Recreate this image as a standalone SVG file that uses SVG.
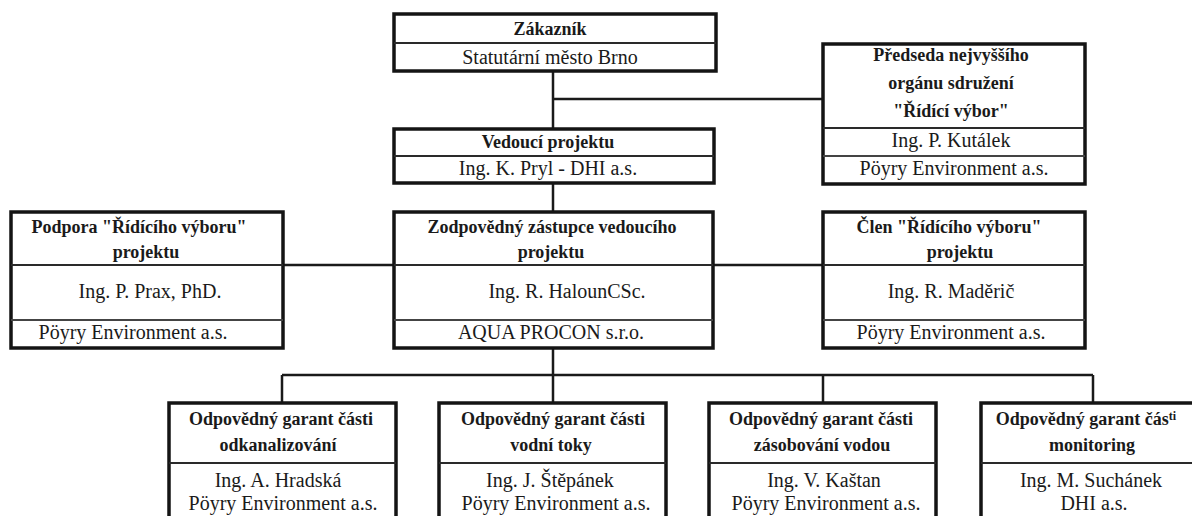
<svg xmlns="http://www.w3.org/2000/svg" width="1192" height="516" viewBox="0 0 1192 516">
<style>
.box{fill:#fff;stroke:#141414;stroke-width:3.5}
.div{stroke:#2a2a2a;stroke-width:2;fill:none}
.div2{stroke:#444;stroke-width:2;fill:none}
.con{stroke:#1a1a1a;stroke-width:2.5;fill:none}
text{font-family:"Liberation Serif","Times New Roman",serif;fill:#1a1a1a;text-anchor:middle}
.b{font-weight:bold;font-size:18px}
.r{font-size:20px}
</style>
<rect width="1192" height="516" fill="#fff"/>
<g id="connectors">
<path class="con" d="M553 71V129M553 99H823M553 183V212M283 265H823M553 348V375M282 375H1093M282 375V403M553 375V403M823 375V403M1093 375V403"/>
</g>
<g id="zakaznik">
<rect class="box" x="394" y="14" width="322" height="57"/>
<line class="div" x1="394" y1="43" x2="716" y2="43"/>
<text class="b" x="550" y="35">Zákazník</text>
<text class="r" x="550" y="64">Statutární město Brno</text>
</g>
<g id="predseda">
<rect class="box" x="823" y="44" width="262" height="140"/>
<line class="div" x1="823" y1="128" x2="1085" y2="128"/>
<line class="div2" x1="823" y1="156" x2="1085" y2="156"/>
<text class="b" x="951" y="61">Předseda nejvyššího</text>
<text class="b" x="951" y="89">orgánu sdružení</text>
<text class="b" x="951" y="117">"Řídící výbor"</text>
<text class="r" x="951" y="147">Ing. P. Kutálek</text>
<text class="r" x="954" y="175">Pöyry Environment a.s.</text>
</g>
<g id="vedouci">
<rect class="box" x="394" y="129" width="320" height="54"/>
<line class="div" x1="394" y1="156" x2="714" y2="156"/>
<text class="b" x="548" y="148">Vedoucí projektu</text>
<text class="r" x="548" y="175">Ing. K. Pryl - DHI a.s.</text>
</g>
<g id="podpora">
<rect class="box" x="11" y="212" width="272" height="136"/>
<line class="div" x1="11" y1="265" x2="283" y2="265"/>
<line class="div2" x1="11" y1="320" x2="283" y2="320"/>
<text class="b" x="139" y="233">Podpora "Řídícího výboru"</text>
<text class="b" x="146" y="258">projektu</text>
<text class="r" x="150" y="298">Ing. P. Prax, PhD.</text>
<text class="r" x="133" y="339">Pöyry Environment a.s.</text>
</g>
<g id="zastupce">
<rect class="box" x="394" y="212" width="319" height="136"/>
<line class="div" x1="394" y1="265" x2="713" y2="265"/>
<line class="div2" x1="394" y1="320" x2="713" y2="320"/>
<text class="b" x="552" y="233">Zodpovědný zástupce vedoucího</text>
<text class="b" x="551" y="258">projektu</text>
<text class="r" x="567" y="298">Ing. R. HalounCSc.</text>
<text class="r" x="551" y="339">AQUA PROCON s.r.o.</text>
</g>
<g id="clen">
<rect class="box" x="823" y="212" width="262" height="136"/>
<line class="div" x1="823" y1="265" x2="1085" y2="265"/>
<line class="div2" x1="823" y1="320" x2="1085" y2="320"/>
<text class="b" x="949" y="233">Člen "Řídícího výboru"</text>
<text class="b" x="960" y="258">projektu</text>
<text class="r" x="951" y="298">Ing. R. Maděrič</text>
<text class="r" x="951" y="339">Pöyry Environment a.s.</text>
</g>
<g id="garant-odkanalizovani">
<rect class="box" x="169" y="403" width="227" height="160"/>
<line class="div" x1="169" y1="463" x2="396" y2="463"/>
<text class="b" x="281" y="425">Odpovědný garant části</text>
<text class="b" x="278" y="451">odkanalizování</text>
<text class="r" x="278" y="487">Ing. A. Hradská</text>
<text class="r" x="283" y="510">Pöyry Environment a.s.</text>
</g>
<g id="garant-vodni-toky">
<rect class="box" x="439" y="403" width="227" height="160"/>
<line class="div" x1="439" y1="463" x2="666" y2="463"/>
<text class="b" x="553" y="425">Odpovědný garant části</text>
<text class="b" x="551" y="451">vodní toky</text>
<text class="r" x="550" y="487">Ing. J. Štěpánek</text>
<text class="r" x="556" y="510">Pöyry Environment a.s.</text>
</g>
<g id="garant-zasobovani">
<rect class="box" x="709" y="403" width="227" height="160"/>
<line class="div" x1="709" y1="463" x2="936" y2="463"/>
<text class="b" x="821" y="425">Odpovědný garant části</text>
<text class="b" x="822" y="451">zásobování vodou</text>
<text class="r" x="824" y="487">Ing. V. Kaštan</text>
<text class="r" x="826" y="510">Pöyry Environment a.s.</text>
</g>
<g id="garant-monitoring">
<rect class="box" x="981" y="403" width="227" height="160"/>
<line class="div" x1="981" y1="463" x2="1208" y2="463"/>
<text class="b" x="1086" y="425">Odpovědný garant čás<tspan dy="-5" font-size="12">ti</tspan></text>
<text class="b" x="1092" y="451">monitoring</text>
<text class="r" x="1091" y="487">Ing. M. Suchánek</text>
<text class="r" x="1094" y="510">DHI a.s.</text>
</g>
</svg>
